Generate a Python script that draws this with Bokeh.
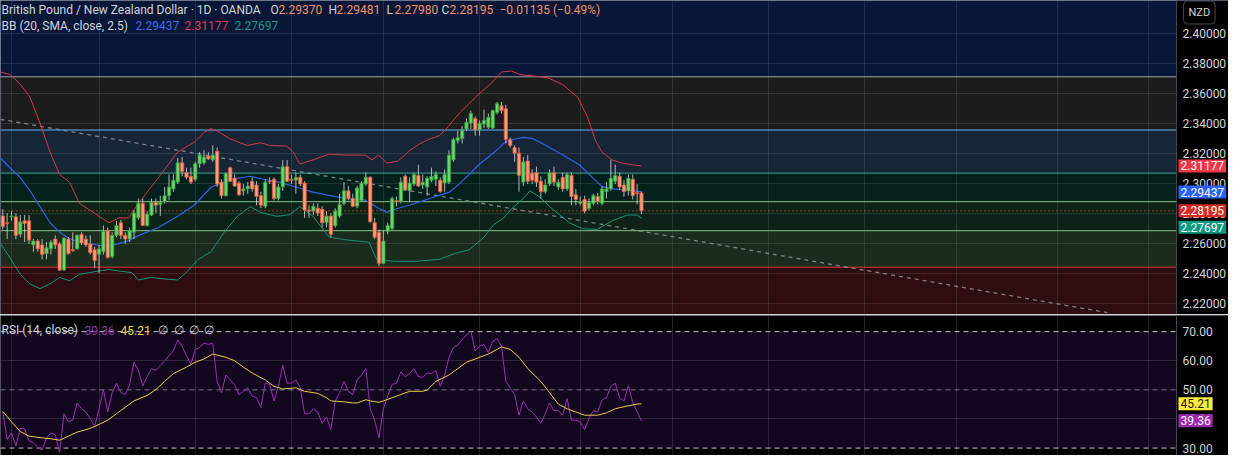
from bokeh.plotting import figure
from bokeh.models import (ColumnDataSource, Range1d, FixedTicker, Span, BoxAnnotation, Label)
from bokeh.layouts import column
from bokeh.embed import file_html
from bokeh.resources import INLINE

# ---------------- data ----------------
open_ = [
    2.2785, 2.2740, 2.2779, 2.2779, 2.2663, 2.2753, 2.2753, 2.2592, 2.2618, 2.2592,
    2.2534, 2.2566, 2.2631, 2.2599, 2.2425, 2.2631, 2.2560, 2.2566, 2.2663, 2.2631,
    2.2599, 2.2560, 2.2528, 2.2547, 2.2689, 2.2515, 2.2656, 2.2740, 2.2656, 2.2631,
    2.2676, 2.2772, 2.2869, 2.2721, 2.2791, 2.2875, 2.2862, 2.2881, 2.2920, 2.2965,
    2.3010, 2.3139, 2.3074, 2.3049, 2.3029, 2.3132, 2.3139, 2.3184, 2.3158, 2.3216,
    2.3010, 2.2920, 2.3106, 2.3036, 2.3004, 2.2952, 2.2965, 2.3016, 2.2991, 2.2920,
    2.2849, 2.3016, 2.3029, 2.2901, 2.2978, 2.3113, 2.3029, 2.3023, 2.3042, 2.3004,
    2.2824, 2.2817, 2.2836, 2.2830, 2.2740, 2.2785, 2.2721, 2.2785, 2.2869, 2.2952,
    2.2901, 2.2849, 2.2888, 2.2997, 2.3042, 2.2740, 2.2676, 2.2470, 2.2682, 2.2701,
    2.2888, 2.2881, 2.3049, 2.2952, 2.2997, 2.3055, 2.2991, 2.2978, 2.3023, 2.3029,
    2.3023, 2.3004, 2.3010, 2.3158, 2.3286, 2.3299, 2.3364, 2.3402, 2.3434, 2.3357,
    2.3396, 2.3376, 2.3370, 2.3473, 2.3518, 2.3499, 2.3293, 2.3241, 2.3203, 2.3010,
    2.3151, 2.3068, 2.3074, 2.3016, 2.2946, 2.2997, 2.3074, 2.2978, 2.3042, 2.2965,
    2.3055, 2.2926, 2.2869, 2.2894, 2.2836, 2.2869, 2.2914, 2.2869, 2.2946, 2.2965,
    2.3016, 2.3049, 2.2991, 2.2952, 2.3029, 2.2939, 2.29370,
]
high = [
    2.2830, 2.2804, 2.2817, 2.2804, 2.2791, 2.2791, 2.2791, 2.2631, 2.2631, 2.2631,
    2.2611, 2.2624, 2.2656, 2.2611, 2.2644, 2.2644, 2.2676, 2.2663, 2.2676, 2.2656,
    2.2656, 2.2579, 2.2592, 2.2721, 2.2708, 2.2676, 2.2753, 2.2759, 2.2676, 2.2708,
    2.2824, 2.2901, 2.2901, 2.2817, 2.2901, 2.2901, 2.2920, 2.2978, 2.3061, 2.3061,
    2.3171, 2.3177, 2.3106, 2.3106, 2.3145, 2.3209, 2.3222, 2.3209, 2.3254, 2.3241,
    2.3029, 2.3074, 2.3113, 2.3061, 2.3016, 2.2997, 2.3010, 2.3042, 2.3016, 2.2946,
    2.3029, 2.3042, 2.3042, 2.2997, 2.3158, 2.3158, 2.3061, 2.3074, 2.3061, 2.3016,
    2.2856, 2.2869, 2.2869, 2.2849, 2.2817, 2.2804, 2.2836, 2.2933, 2.3010, 2.2984,
    2.2933, 2.2984, 2.3016, 2.3074, 2.3049, 2.2772, 2.2695, 2.2689, 2.2740, 2.2914,
    2.2914, 2.3042, 2.3061, 2.3042, 2.3074, 2.3126, 2.3061, 2.3049, 2.3106, 2.3081,
    2.3042, 2.3094, 2.3222, 2.3306, 2.3351, 2.3383, 2.3434, 2.3486, 2.3447, 2.3421,
    2.3492, 2.3466, 2.3492, 2.3544, 2.3544, 2.3524, 2.3306, 2.3254, 2.3241, 2.3177,
    2.3190, 2.3094, 2.3113, 2.3049, 2.3029, 2.3094, 2.3113, 2.3029, 2.3074, 2.3074,
    2.3074, 2.2965, 2.2914, 2.2920, 2.2901, 2.2933, 2.2939, 2.2984, 2.3010, 2.3158,
    2.3126, 2.3074, 2.3023, 2.3061, 2.3061, 2.2997, 2.29481,
]
low = [
    2.2695, 2.2631, 2.2753, 2.2631, 2.2644, 2.2611, 2.2599, 2.2547, 2.2547, 2.2496,
    2.2496, 2.2528, 2.2566, 2.2419, 2.2419, 2.2528, 2.2547, 2.2560, 2.2592, 2.2579,
    2.2528, 2.2438, 2.2406, 2.2528, 2.2502, 2.2502, 2.2644, 2.2631, 2.2599, 2.2611,
    2.2631, 2.2759, 2.2721, 2.2714, 2.2785, 2.2804, 2.2785, 2.2869, 2.2888, 2.2946,
    2.2997, 2.3049, 2.3029, 2.2997, 2.3016, 2.3106, 2.3126, 2.3158, 2.3145, 2.2978,
    2.2901, 2.2914, 2.3010, 2.2978, 2.2920, 2.2920, 2.2933, 2.2946, 2.2856, 2.2836,
    2.2836, 2.2997, 2.2888, 2.2888, 2.2952, 2.3010, 2.2997, 2.2933, 2.2984, 2.2772,
    2.2772, 2.2791, 2.2785, 2.2708, 2.2708, 2.2644, 2.2708, 2.2772, 2.2856, 2.2888,
    2.2843, 2.2836, 2.2881, 2.2984, 2.2740, 2.2631, 2.2451, 2.2464, 2.2663, 2.2689,
    2.2849, 2.2869, 2.2952, 2.2881, 2.2984, 2.2978, 2.2965, 2.2920, 2.3010, 2.2984,
    2.2939, 2.2946, 2.2997, 2.3145, 2.3267, 2.3267, 2.3351, 2.3364, 2.3319, 2.3319,
    2.3370, 2.3364, 2.3364, 2.3460, 2.3466, 2.3267, 2.3241, 2.3145, 2.2946, 2.2984,
    2.2997, 2.2997, 2.2978, 2.2901, 2.2933, 2.2984, 2.2984, 2.2959, 2.2946, 2.2952,
    2.2856, 2.2856, 2.2856, 2.2804, 2.2824, 2.2856, 2.2862, 2.2856, 2.2901, 2.2952,
    2.2997, 2.2959, 2.2914, 2.2920, 2.2894, 2.2862, 2.27980,
]
close = [
    2.2714, 2.2734, 2.2785, 2.2656, 2.2746, 2.2734, 2.2624, 2.2618, 2.2566, 2.2528,
    2.2573, 2.2611, 2.2592, 2.2425, 2.2637, 2.2534, 2.2554, 2.2656, 2.2605, 2.2592,
    2.2541, 2.2489, 2.2566, 2.2682, 2.2509, 2.2656, 2.2721, 2.2656, 2.2631, 2.2689,
    2.2804, 2.2869, 2.2721, 2.2798, 2.2875, 2.2856, 2.2875, 2.2920, 2.2978, 2.3023,
    2.3139, 2.3081, 2.3042, 2.3010, 2.3132, 2.3190, 2.3177, 2.3164, 2.3190, 2.2997,
    2.2920, 2.3068, 2.3016, 2.2984, 2.2926, 2.2965, 2.2984, 2.2965, 2.2914, 2.2856,
    2.3010, 2.3012, 2.2901, 2.2978, 2.3113, 2.3016, 2.3023, 2.3042, 2.2997, 2.2824,
    2.2817, 2.2849, 2.2804, 2.2740, 2.2785, 2.2663, 2.2817, 2.2862, 2.2952, 2.2901,
    2.2849, 2.2971, 2.3004, 2.3042, 2.2746, 2.2644, 2.2470, 2.2618, 2.2721, 2.2901,
    2.2881, 2.3010, 2.2959, 2.3004, 2.3061, 2.2984, 2.3010, 2.3036, 2.3049, 2.3061,
    2.2946, 2.3061, 2.3190, 2.3293, 2.3306, 2.3357, 2.3409, 2.3466, 2.3357, 2.3402,
    2.3421, 2.3441, 2.3486, 2.3531, 2.3486, 2.3293, 2.3254, 2.3203, 2.3055, 2.3145,
    2.3016, 2.3023, 2.3010, 2.2946, 2.2991, 2.3074, 2.3010, 2.3010, 2.2965, 2.3061,
    2.2914, 2.2894, 2.2881, 2.2817, 2.2875, 2.2920, 2.2881, 2.2965, 2.2965, 2.3036,
    2.3055, 2.2978, 2.2946, 2.3036, 2.2920, 2.2933, 2.28195,
]
bars = list(range(len(close)))

# Bollinger Bands (20, SMA, close, 2.5), read as polyline vertices
bb_upper_bar = [-0.5, 1.7, 4, 6.2, 8.5, 10.8, 13, 15.3, 17.5, 19.8, 22, 24.3, 26.5, 28.8, 31,
                35.6, 40, 43.8, 46, 47.6, 49, 52, 55.9, 58.9, 61, 64.9, 66.4, 67.9, 70.9, 74.6,
                78.4, 82.9, 84.4, 85.9, 87.8, 90.4, 93.1, 95.3, 97.6, 99.8, 101.3, 102.8, 104.7,
                106.6, 108.1, 109.3, 111.8, 114, 116.3, 118.5, 121.2, 124.6, 128, 131.4, 133.6,
                135.5, 137, 139.3, 141.5, 143.8, 146]
bb_upper = [2.3743, 2.3726, 2.3661, 2.3576, 2.3404, 2.3211, 2.3061, 2.3008, 2.2869, 2.2826,
            2.2783, 2.2740, 2.2772, 2.2772, 2.2869, 2.3040, 2.3211, 2.3276, 2.3340, 2.3366,
            2.3351, 2.3297, 2.3254, 2.3272, 2.3254, 2.3250, 2.3211, 2.3130, 2.3158, 2.3196,
            2.3190, 2.3190, 2.3158, 2.3190, 2.3137, 2.3151, 2.3222, 2.3265, 2.3297, 2.3319,
            2.3362, 2.3415, 2.3479, 2.3533, 2.3576, 2.3608, 2.3672, 2.3743, 2.3749, 2.3724,
            2.3717, 2.3704, 2.3659, 2.3576, 2.3447, 2.3286, 2.3209, 2.3158, 2.3137, 2.3126,
            2.31177]
bb_basis_bar = [-0.5, 1.7, 4, 6.2, 8.5, 10.8, 13, 15.3, 17.5, 19.8, 22, 24.3, 26.5, 28.8, 31,
                35.6, 40, 43.8, 47.6, 52, 56.6, 59.6, 63.4, 67.1, 70.9, 74.6, 78.4, 82.9, 85.9,
                87.8, 90.4, 93.1, 95.3, 97.6, 99.8, 102.1, 104.3, 106.6, 108.8, 111.1, 113.3,
                114.8, 117.1, 119, 121.2, 124.2, 128, 131.8, 134.8, 137, 139.3, 142.3, 145.3, 146]
bb_basis = [2.3169, 2.3104, 2.3040, 2.2954, 2.2847, 2.2740, 2.2676, 2.2633, 2.2611, 2.2601,
            2.2590, 2.2584, 2.2601, 2.2622, 2.2654, 2.2708, 2.2783, 2.2858, 2.2976, 2.3029,
            2.3049, 2.3029, 2.3008, 2.2976, 2.2944, 2.2922, 2.2901, 2.2890, 2.2836, 2.2809,
            2.2836, 2.2858, 2.2879, 2.2901, 2.2922, 2.2944, 2.2997, 2.3061, 2.3126, 2.3179,
            2.3233, 2.3276, 2.3297, 2.3308, 2.3299, 2.3254, 2.3190, 2.3126, 2.3040, 2.2980,
            2.2965, 2.2959, 2.2948, 2.29437]
bb_lower_bar = [-0.5, 1.7, 4, 6.2, 8.5, 10.8, 13, 15.3, 17.5, 19.8, 22, 24.3, 26.5, 29.5, 31,
                34, 37.1, 40, 42.3, 44.6, 47.6, 50.6, 53.6, 56.6, 58.9, 62.6, 65.6, 67.9, 70.9,
                74.6, 78.4, 83.7, 85.5, 89.7, 94.2, 99.8, 103.2, 106.6, 110, 112.2, 114.5,
                116.4, 119, 120.5, 122.8, 125, 127.3, 129.5, 132.5, 135.9, 139.3, 142.7, 145, 146]
bb_lower = [2.2601, 2.2504, 2.2397, 2.2333, 2.2301, 2.2333, 2.2376, 2.2354, 2.2397, 2.2408,
            2.2419, 2.2429, 2.2419, 2.2408, 2.2359, 2.2376, 2.2365, 2.2359, 2.2419, 2.2494,
            2.2547, 2.2676, 2.2783, 2.2847, 2.2809, 2.2783, 2.2793, 2.2847, 2.2783, 2.2644,
            2.2626, 2.2611, 2.2494, 2.2483, 2.2483, 2.2496, 2.2534, 2.2560, 2.2644, 2.2727,
            2.2772, 2.2836, 2.2901, 2.2952, 2.2911, 2.2847, 2.2793, 2.2740, 2.2701, 2.2695,
            2.2753, 2.2791, 2.2791, 2.27697]

# RSI (14, close) per bar and its moving average (vertices)
rsi = [
    42.4, 33.0, 35.2, 30.8, 36.8, 36.6, 32.4, 31.9, 30.2, 29.3,
    33.5, 35.2, 34.6, 28.5, 41.8, 39.0, 39.6, 45.5, 43.5, 42.4,
    40.1, 37.4, 43.5, 50.1, 42.4, 49.0, 52.3, 49.0, 48.4, 51.8,
    59.5, 56.7, 51.4, 54.5, 57.3, 56.7, 58.4, 60.0, 61.7, 63.4,
    67.2, 65.0, 61.7, 58.9, 63.9, 64.5, 66.1, 65.6, 66.1, 52.9,
    49.0, 55.1, 53.4, 51.8, 48.4, 49.5, 50.7, 47.9, 47.3, 44.0,
    52.3, 51.8, 46.2, 51.2, 58.4, 52.3, 52.3, 53.4, 50.7, 41.8,
    41.8, 43.5, 42.4, 38.5, 40.7, 36.3, 46.2, 49.0, 52.9, 49.5,
    48.4, 53.4, 55.1, 57.3, 43.5, 39.6, 33.5, 43.5, 47.9, 51.8,
    52.3, 56.2, 54.5, 55.6, 57.3, 54.5, 54.3, 55.8, 55.6, 56.7,
    51.2, 55.1, 61.2, 64.5, 65.4, 67.2, 68.9, 70.2, 63.4, 65.0,
    65.6, 62.8, 66.7, 67.6, 65.0, 52.9, 50.7, 48.4, 41.3, 46.2,
    43.5, 42.4, 40.7, 38.5, 41.8, 45.5, 42.9, 42.9, 41.3, 47.0,
    39.6, 39.6, 39.0, 36.3, 40.1, 42.9, 42.4, 46.6, 47.3, 51.2,
    52.3, 47.3, 46.2, 51.4, 45.7, 42.4, 39.36,
]
rsi_ma_bar = [0, 2, 4, 6, 9, 11, 13, 15, 17, 19, 21, 24, 26, 28, 30, 33, 35, 37, 39, 42,
              44, 46, 48, 51, 53, 55, 57, 60, 62, 64, 67, 69, 72, 74, 75, 78, 80, 81, 83, 84,
              86, 87, 89, 91, 93, 96, 97, 99, 102, 104, 106, 108, 111, 113, 114, 116, 118, 120,
              123, 125, 127, 129, 131, 133, 136, 138, 140, 142, 145, 146]
rsi_ma = [42.6, 39.0, 35.7, 34.1, 33.5, 33.2, 32.7, 34.1, 35.5, 36.3, 37.4, 39.6, 41.8, 44.0,
          46.2, 48.1, 50.1, 52.9, 55.6, 57.8, 59.5, 60.6, 62.3, 61.2, 60.0, 57.8, 55.8, 53.4,
          51.2, 50.3, 50.7, 49.5, 48.8, 47.3, 46.2, 45.9, 45.5, 45.5, 46.6, 46.2, 45.7, 46.2,
          47.3, 48.4, 49.5, 49.5, 49.9, 52.9, 55.1, 57.3, 59.5, 60.6, 62.3, 63.9, 64.8, 63.9,
          61.2, 57.3, 52.9, 49.0, 45.1, 43.5, 42.4, 41.3, 41.3, 42.1, 43.5, 44.2, 45.1, 45.21]

# drawing tools
fib_levels = [2.3711, 2.3357, 2.3070, 2.2880, 2.2687, 2.2444]
trend_bar = [-0.52, 252.5]
trend_price = [2.3428, 2.2142]

# ticks
month_ticks = [2, 22, 44, 66, 87, 109, 132, 153, 175, 197, 218, 241, 262]
price_ticks = [2.22, 2.24, 2.26, 2.28, 2.30, 2.32, 2.34, 2.36, 2.38, 2.40]
rsi_ticks = [30, 40, 50, 60, 70]
rsi_bands = [70, 50, 30]

# legend values
ohlc_text = ["2.29370", "2.29481", "2.27980", "2.28195"]
change_text = "\u22120.01135 (\u22120.49%)"
bb_text = ["2.29437", "2.31177", "2.27697"]
bb_vals = [2.29437, 2.31177, 2.27697]
rsi_text = ["39.36", "45.21"]
rsi_vals = [39.36, 45.21]

# ---------------- layout / style ----------------
W = 1228
MAIN_H = 314
RSI_H = 140
FONT = "Roboto"
TXT = "#d1d4dc"
X0, SCALE_EDGE, X1 = -0.52, 268.3, 280.19   # chart area | price-scale strip

x_range = Range1d(X0, X1)


def make_fig(h, y0, y1, bg):
    f = figure(width=W, height=h, x_range=x_range, y_range=Range1d(y0, y1),
               x_axis_location=None, y_axis_location=None, toolbar_location=None,
               output_backend="svg", title=None,
               min_border_left=0, min_border_right=0, min_border_top=0, min_border_bottom=0,
               background_fill_color=bg, border_fill_color="#000000",
               outline_line_color=None)
    f.xgrid.ticker = FixedTicker(ticks=month_ticks)
    return f


def scale_strip(fig, ticks, fmt):
    # black price-scale strip with its border line and tick labels
    fig.add_layout(BoxAnnotation(left=SCALE_EDGE, fill_color="#000000", fill_alpha=1,
                                 line_alpha=0, level="annotation"))
    fig.add_layout(Span(location=SCALE_EDGE, dimension="height", line_color="#434651",
                        line_width=1, level="annotation"))
    for t in ticks:
        fig.add_layout(Label(x=SCALE_EDGE, y=t, x_offset=6, text=fmt % t, text_color=TXT,
                             text_font=FONT, text_font_size="12px", text_baseline="middle",
                             text_align="left"))


def text(fig, h, x, y_top, t, color, size="12px"):
    fig.add_layout(Label(x=x, y=h - y_top, x_units="screen", y_units="screen", text=t,
                         text_color=color, text_font=FONT, text_font_size=size,
                         text_baseline="middle", text_align="left"))


def tag(fig, yv, t, bg, fg="#ffffff", dy=0):
    fig.add_layout(Label(x=SCALE_EDGE, y=yv, x_offset=2, y_offset=dy, text=t, text_color=fg,
                         text_font=FONT, text_font_size="12px", text_baseline="middle",
                         text_align="left", background_fill_color=bg, padding=2))


# ---------------- main pane ----------------
main = make_fig(MAIN_H, 2.21293, 2.42186, "#081638")
main.ygrid.ticker = FixedTicker(ticks=price_ticks)
for g in (main.xgrid, main.ygrid):
    g.grid_line_color = "#ffffff"
    g.grid_line_alpha = 0.1

zone_colors = ["#1c1c1c", "#162636", "#04201c", "#0e2317", "#1b2b1e"]
for i, zc in enumerate(zone_colors):
    main.add_layout(BoxAnnotation(top=fib_levels[i], bottom=fib_levels[i + 1], fill_color=zc,
                                  fill_alpha=1, line_alpha=0, level="image"))
main.add_layout(BoxAnnotation(top=fib_levels[-1], fill_color="#2e0d10", fill_alpha=1,
                              line_alpha=0, level="image"))

fib_line_colors = ["#a0a0a0", "#64b5f6", "#3aa88f", "#81c784", "#81c784", "#e0343e"]
for lvl, lc in zip(fib_levels, fib_line_colors):
    main.add_layout(Span(location=lvl, dimension="width", line_color=lc, line_width=1,
                         level="underlay"))
main.add_layout(Span(location=close[-1], dimension="width", line_color="#ef6a3c",
                     line_dash="1 3", line_width=1, level="underlay"))

main.line(trend_bar, trend_price, line_color="#9598a1", line_width=1.3, line_dash="4 4",
          line_alpha=0.8)

main.line(bb_upper_bar, bb_upper, line_color="#d1394b", line_width=1)
main.line(bb_basis_bar, bb_basis, line_color="#2f62e8", line_width=1.2)
main.line(bb_lower_bar, bb_lower, line_color="#16927a", line_width=1)

up = [i for i in bars if close[i] >= open_[i]]
dn = [i for i in bars if close[i] < open_[i]]


def src(idx):
    return ColumnDataSource(dict(
        x=[bars[i] for i in idx],
        high=[high[i] for i in idx],
        low=[low[i] for i in idx],
        top=[max(open_[i], close[i]) for i in idx],
        bottom=[min(open_[i], close[i]) for i in idx],
    ))


for idx, fill, edge in ((up, "#6fd46a", "#2f9e3e"), (dn, "#f6a07a", "#e5553e")):
    s = src(idx)
    main.segment(x0="x", y0="high", x1="x", y1="low", source=s, line_color="#cfcfcf",
                 line_width=1, line_alpha=0.85)
    main.vbar(x="x", width=0.75, top="top", bottom="bottom", source=s, fill_color=fill,
              line_color=edge, line_width=0.8)

scale_strip(main, price_ticks, "%.5f")

VAL = "#f5926c"
text(main, MAIN_H, 1, 9, "British Pound / New Zealand Dollar \u00b7 1D \u00b7 OANDA", TXT)
for lx, letter, val in zip([270, 328, 386, 441], ["O", "H", "L", "C"], ohlc_text):
    text(main, MAIN_H, lx, 9, letter, TXT)
    text(main, MAIN_H, lx + 8, 9, val, VAL)
text(main, MAIN_H, 499, 9, change_text, VAL)
text(main, MAIN_H, 1, 25, "BB (20, SMA, close, 2.5)", TXT)
for bx, t, c in zip([135, 184, 234], bb_text, ["#3d6bf0", "#e03a4e", "#1a9a86"]):
    text(main, MAIN_H, bx, 25, t, c)

tag(main, bb_vals[1], bb_text[1], "#f23645")
tag(main, bb_vals[0], bb_text[0], "#2962ff")
tag(main, close[-1], ohlc_text[3], "#d52b25")
tag(main, bb_vals[2], bb_text[2], "#089981", dy=-9)

main.add_layout(Label(x=SCALE_EDGE, y=MAIN_H - 12, x_offset=7, y_units="screen", text="NZD",
                      text_color=TXT, text_font=FONT, text_font_size="11px",
                      text_baseline="middle", text_align="left",
                      background_fill_color="#000000", border_line_color="#434651",
                      border_radius=4, padding=5))

# ---------------- RSI pane ----------------
rp = make_fig(RSI_H, 27.45, 75.54, "#000000")
rp.ygrid.ticker = FixedTicker(ticks=[40, 60])
for g in (rp.xgrid, rp.ygrid):
    g.grid_line_color = "#ffffff"
    g.grid_line_alpha = 0.12
rp.add_layout(BoxAnnotation(bottom=rsi_bands[2], top=rsi_bands[0], fill_color="#13061f",
                            fill_alpha=1, line_alpha=0, level="image"))
for lvl, lc in zip(rsi_bands, ["#c0c3cc", "#787b86", "#c0c3cc"]):
    rp.add_layout(Span(location=lvl, dimension="width", line_color=lc, line_width=1,
                       line_dash="5 4", level="underlay"))

rp.line(bars, rsi, line_color="#9c2fb5", line_width=1)
rp.line(rsi_ma_bar, rsi_ma, line_color="#e8d04a", line_width=1)

scale_strip(rp, rsi_ticks, "%.2f")

text(rp, RSI_H, 1, 14.5, "RSI (14, close)", TXT)
text(rp, RSI_H, 84, 14.5, rsi_text[0], "#8e3aa8")
text(rp, RSI_H, 120, 14.5, rsi_text[1], "#e6d94a")
for zx in [157, 173, 188, 203]:
    text(rp, RSI_H, zx, 14.5, "\u2205", TXT)

tag(rp, rsi_vals[1], rsi_text[1], "#ffeb3b", "#131722")
tag(rp, rsi_vals[0], rsi_text[0], "#9c27b0")

layout = column(main, rp, spacing=1, styles={"background-color": "#d1d4dc"})

open("out.html", "w").write(file_html(layout, INLINE))
